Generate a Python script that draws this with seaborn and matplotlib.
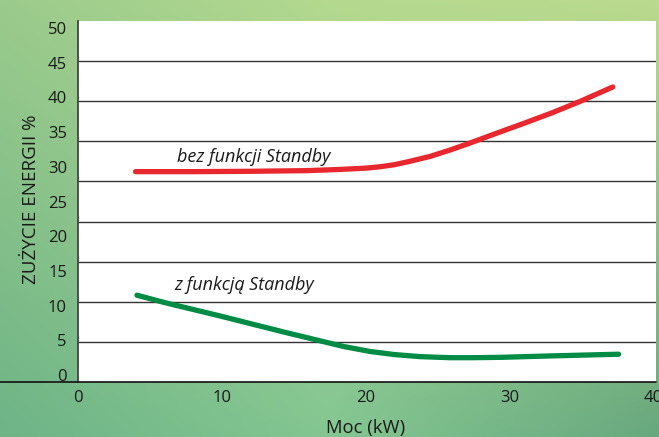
import numpy as np
import pandas as pd
import matplotlib
matplotlib.use("Agg")
import matplotlib.pyplot as plt
from matplotlib.lines import Line2D
import seaborn as sns

# ---- data ----
x_red = [4.0, 8.0, 12.0, 16.0, 18.0, 20.0, 21.0, 22.0, 23.0, 24.5, 26.0, 27.3, 29.0, 31.0, 33.0, 34.9, 37.2]
y_red = [29.3, 29.3, 29.35, 29.45, 29.6, 29.8, 30.0, 30.3, 30.75, 31.5, 32.5, 33.45, 34.75, 36.25, 37.8, 39.4, 41.5]
x_green = [4.1, 6.0, 8.0, 9.9, 12.0, 14.6, 16.9, 18.5, 20.3, 22.0, 23.8, 25.9, 27.5, 29.4, 32.8, 37.6]
y_green = [11.5, 10.45, 9.45, 8.5, 7.4, 6.05, 4.9, 4.1, 3.4, 2.95, 2.65, 2.5, 2.5, 2.55, 2.75, 3.0]
label_red = "bez funkcji Standby"
label_green = "z funkcją Standby"
x_ticks = [0, 10, 20, 30, 40]
y_ticks = [0, 5, 10, 15, 20, 25, 30, 35, 40, 45, 50]
x_title = "Moc (kW)"
y_title = "ZUŻYCIE ENERGII %"

df = pd.concat([
    pd.DataFrame({"moc": x_red, "zuzycie": y_red, "seria": label_red}),
    pd.DataFrame({"moc": x_green, "zuzycie": y_green, "seria": label_green}),
])

sns.set_theme(style="white")
plt.rcParams["font.family"] = ["Open Sans", "DejaVu Sans"]

fig = plt.figure(figsize=(6.59, 4.37), dpi=100)

# green gradient background
bg = fig.add_axes([0, 0, 1, 1], zorder=-10)
tl = np.array([155, 203, 140]) / 255
tr = np.array([186, 218, 142]) / 255
bl = np.array([110, 180, 135]) / 255
br = np.array([104, 168, 126]) / 255
tc = np.array([180, 217, 143]) / 255
bc = np.array([132, 198, 146]) / 255
nx, ny = 200, 140
u = np.linspace(0, 1, nx)[None, :, None]
v = np.linspace(0, 1, ny)[:, None, None]
def lerp3(a, b, c, t):
    return np.where(t < 0.5, a + (b - a) * (t / 0.5), b + (c - b) * ((t - 0.5) / 0.5))
top = lerp3(tl, tc, tr, u)
bot = lerp3(bl, bc, br, u)
img = top * (1 - v) + bot * v
bg.imshow(img, aspect="auto", extent=[0, 1, 0, 1], interpolation="bilinear")
bg.axis("off")

ax = fig.add_axes([0.1184, 0.1259, 0.877, 0.826])
ax.set_facecolor("white")

sns.lineplot(data=df, x="moc", y="zuzycie", hue="seria",
             palette={label_red: "#e8282e", label_green: "#008c45"},
             linewidth=3.8, legend=False, ax=ax, sort=False)
for ln in ax.lines:
    ln.set_solid_capstyle("round")
    ln.set_solid_joinstyle("round")

ax.set_xlim(0, 40.2)
ax.set_ylim(-1, 51)
ax.set_xticks(x_ticks)
ax.set_xticklabels([str(t) for t in x_ticks])
ax.set_yticks(y_ticks)
ax.set_yticklabels([str(t) for t in y_ticks])
ax.set_yticks(np.linspace(-1, 51, 10)[1:-1], minor=True)
ax.grid(False)
ax.grid(True, which="minor", axis="y", color="#333333", linewidth=1.0)
ax.tick_params(axis="y", which="both", length=0, pad=8, labelsize=12, labelcolor="#1a1a1a")
ax.tick_params(axis="x", which="major", direction="in", length=3.5, width=1,
               color="#555555", pad=6, labelsize=12, labelcolor="#1a1a1a")

for s in ["top", "right", "bottom"]:
    ax.spines[s].set_visible(False)
ax.spines["left"].set_color("#444444")
ax.spines["left"].set_linewidth(1.3)

fig.add_artist(Line2D([0, 0.995], [0.1259, 0.1259], color="#111111", linewidth=1.2,
                      transform=fig.transFigure))

ax.set_xlabel(x_title, fontsize=13.3, color="#1a1a1a")
ax.xaxis.set_label_coords(0.498, -0.127)
ax.xaxis.label.set_va("center")
ax.set_ylabel(y_title, fontsize=13.5, color="#1a1a1a")
ax.yaxis.set_label_coords(-0.081, 0.507)
ax.yaxis.label.set_va("center")
ax.yaxis.label.set_rotation_mode("default")

ax.text(6.9, 31.4, label_red, style="italic", fontsize=13, color="#1a1a1a",
        ha="left", va="center")
ax.text(6.67, 12.97, label_green, style="italic", fontsize=13, color="#1a1a1a",
        ha="left", va="center")

fig.savefig("out.png", dpi=100)
